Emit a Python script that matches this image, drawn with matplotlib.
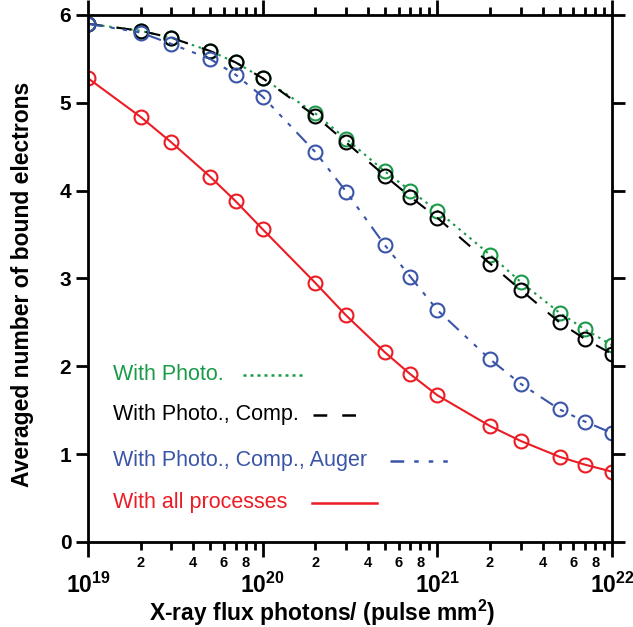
import numpy as np
import matplotlib.pyplot as plt
from matplotlib.lines import Line2D
from matplotlib.ticker import LogLocator, FuncFormatter

plt.rcParams['font.family'] = ['Liberation Sans', 'DejaVu Sans']
plt.rcParams['mathtext.fontset'] = 'custom'
plt.rcParams['mathtext.rm'] = 'Liberation Sans:bold'
plt.rcParams['mathtext.bf'] = 'Liberation Sans:bold'

# flux values (photons / (pulse mm^2))
flux = [1e19, 2e19, 3e19, 5e19, 7e19, 1e20, 2e20, 3e20, 5e20, 7e20,
        1e21, 2e21, 3e21, 5e21, 7e21, 1e22]

photo = [5.90, 5.82, 5.74, 5.59, 5.46, 5.28, 4.88, 4.59, 4.22, 4.00,
         3.77, 3.27, 2.96, 2.61, 2.42, 2.24]
photo_comp = [5.90, 5.82, 5.74, 5.59, 5.46, 5.28, 4.85, 4.55, 4.17, 3.93,
              3.69, 3.17, 2.87, 2.50, 2.31, 2.14]
photo_comp_auger = [5.90, 5.80, 5.67, 5.50, 5.32, 5.07, 4.44, 3.99, 3.38, 3.02,
                    2.64, 2.08, 1.80, 1.51, 1.37, 1.24]
all_proc = [5.28, 4.84, 4.55, 4.16, 3.88, 3.56, 2.95, 2.58, 2.16, 1.91,
            1.67, 1.32, 1.15, 0.97, 0.88, 0.80]

labels = ["With Photo.", "With Photo., Comp.",
          "With Photo., Comp., Auger", "With all processes"]

green = '#1a9a48'
blue = '#3a55a8'
red = '#ec1c24'
black = '#000000'

styles = [
    (photo, green, (0, (1.2, 2.2))),
    (photo_comp, black, (0, (7, 7))),
    (photo_comp_auger, blue, (0, (7, 4, 2, 4, 2, 4, 2, 4))),
    (all_proc, red, '-'),
]

fig = plt.figure(figsize=(6.33, 6.27), dpi=100)
ax = fig.add_axes([0.139, 0.1356, 0.828, 0.8405])

for (vals, col, ls) in styles:
    ax.plot(flux, vals, color=col, linestyle=ls, linewidth=1.5,
            marker='o', markersize=10, markerfacecolor='none',
            markeredgecolor=col, markeredgewidth=1.5)

ax.set_xscale('log')
ax.set_xlim(1e19, 1e22)
ax.set_ylim(0, 6)

for s in ax.spines.values():
    s.set_linewidth(2)

ax.xaxis.set_major_locator(LogLocator(base=10, numticks=10))
ax.xaxis.set_minor_locator(LogLocator(base=10, subs=np.arange(2, 10), numticks=20))


def minor_fmt(x, pos):
    d = int(round(x / 10 ** np.floor(np.log10(x) + 1e-9)))
    return str(d) if d in (2, 4, 6, 8) else ''


def major_fmt(x, pos):
    return r'$\mathrm{10^{%d}}$' % int(round(np.log10(x)))


ax.xaxis.set_minor_formatter(FuncFormatter(minor_fmt))
ax.xaxis.set_major_formatter(FuncFormatter(major_fmt))
ax.set_yticks([0, 1, 2, 3, 4, 5, 6])

ax.tick_params(axis='both', which='both', direction='out', top=True, right=True,
               labeltop=False, labelright=False)
ax.tick_params(axis='x', which='major', length=11, width=2, pad=11, labelsize=16.5)
ax.tick_params(axis='x', which='minor', length=6, width=2, pad=4, labelsize=10.5)
ax.tick_params(axis='y', which='major', length=9, width=2, pad=3, labelsize=15)
for lab in ax.get_xticklabels(minor=True) + ax.get_yticklabels():
    lab.set_fontweight('bold')

ax.set_xlabel('X-ray flux photons/ (pulse mm$^{2}$)', fontsize=16.5,
              fontweight='bold')
ax.xaxis.set_label_coords(0.447, -0.134)
ax.xaxis.label.set_va('center')
ax.set_ylabel('Averaged number of bound electrons', fontsize=16.5,
              fontweight='bold')
ax.yaxis.set_label_coords(-0.125, 0.488)
ax.yaxis.label.set_va('center')

# hand-made legend
leg_y = [0.317, 0.241, 0.154, 0.074]
leg_line = [(0.296, 0.408), (0.429, 0.513), (0.576, 0.691), (0.427, 0.552)]
leg_ls = [(0, (1.2, 1.6)), (0, (5.5, 6)), (0, (5.5, 4, 1.8, 4, 1.8, 4, 1.8, 4)), '-']
for lab, (vals, col, ls), y, (x0, x1), lls in zip(labels, styles, leg_y, leg_line, leg_ls):
    ax.text(0.048, y, lab, color=col, fontsize=15.5, va='center', ha='left',
            transform=ax.transAxes)
    ax.add_line(Line2D([x0, x1], [y, y], color=col, linestyle=lls, linewidth=1.8,
                       transform=ax.transAxes))

fig.savefig('out.png', dpi=100)
